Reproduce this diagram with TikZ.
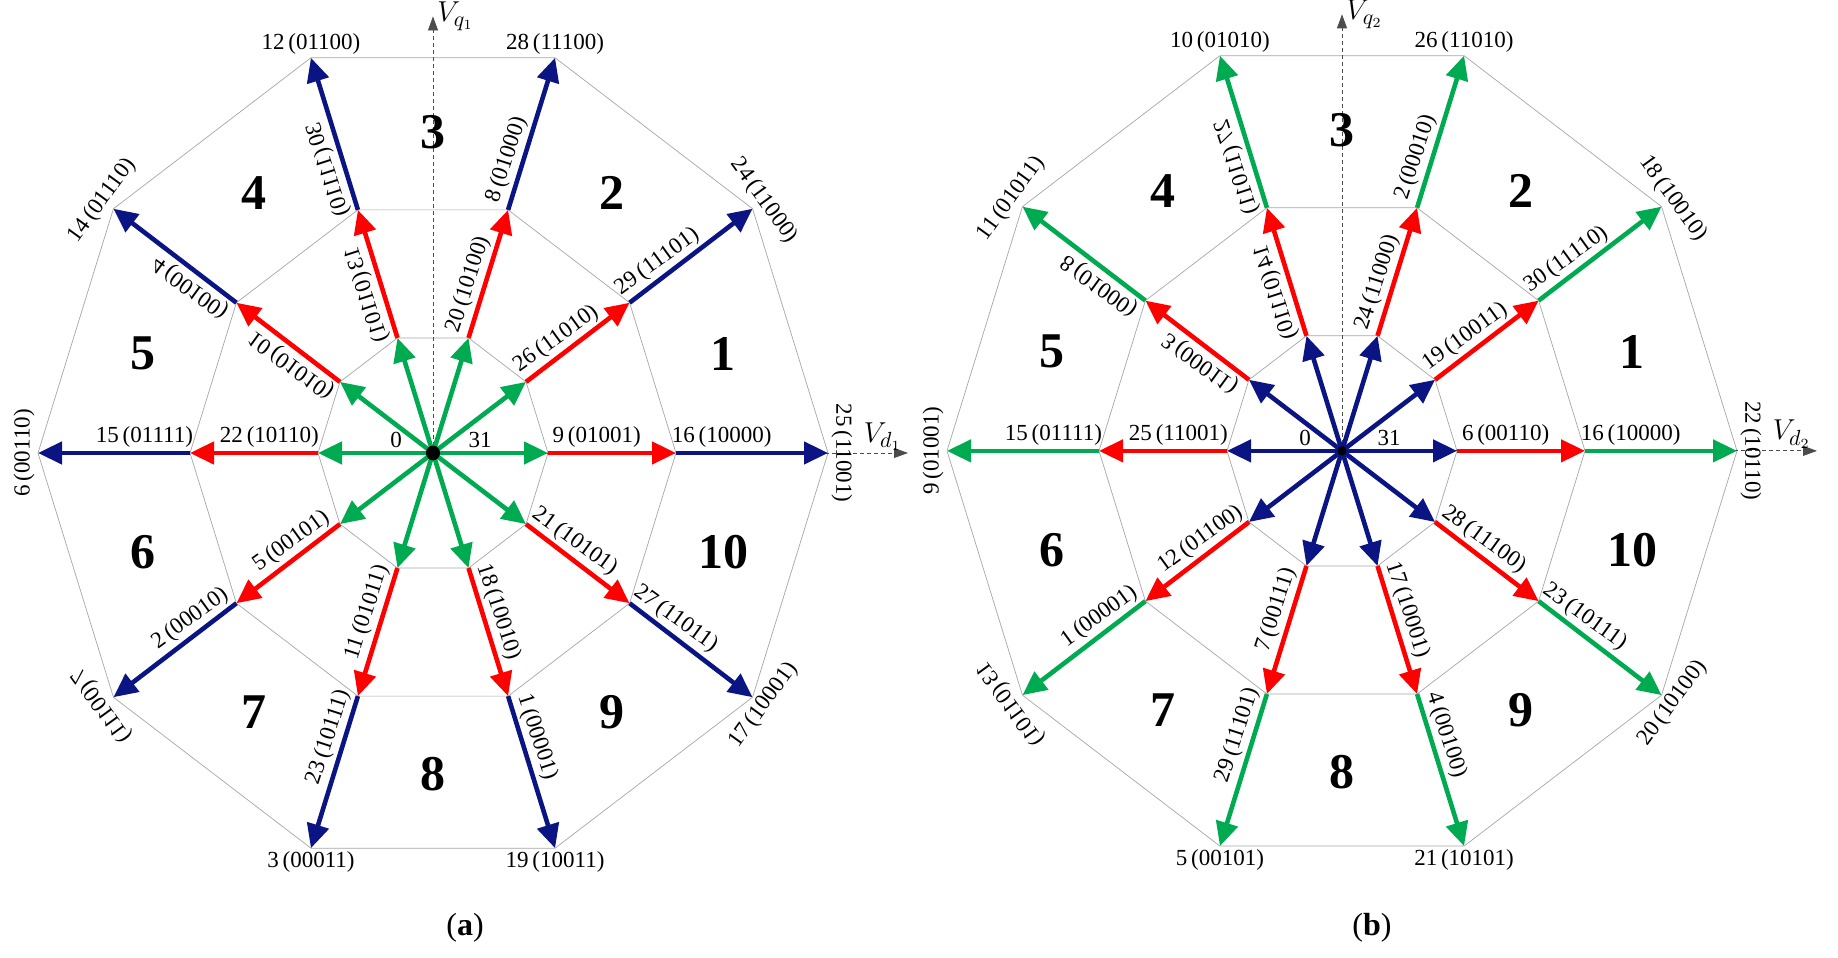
\documentclass[tikz,border=0pt]{standalone}
\usepackage{fontspec}
\setmainfont{Liberation Serif}
\usetikzlibrary{arrows.meta,calc}
\definecolor{gr}{RGB}{0,170,80}
\definecolor{rd}{RGB}{255,0,0}
\definecolor{bl}{RGB}{10,20,130}
\tikzset{
 grid/.style={draw=gray!70,line width=0.35pt},
 arr/.style={line width=2.3pt,-{Triangle[length=12pt,width=11pt]}},
 lab/.style={font=\fontsize{11.5}{13}\selectfont,inner sep=1.5pt,anchor=south,text=black},
 sec/.style={font=\fontsize{25}{27}\selectfont\bfseries},
 ax/.style={draw=black!70,line width=0.4pt,dash pattern=on 2pt off 1.5pt,-{Triangle[length=7pt,width=5pt]}},
 seglab0/.style={lab},
 seglab1/.style={lab,rotate=36},
 seglab2/.style={lab,rotate=72},
 seglab3/.style={lab,rotate=108,xscale=-1},
 seglab4/.style={lab,rotate=144,xscale=-1},
 seglab5/.style={lab},
 seglab6/.style={lab,rotate=36},
 seglab7/.style={lab,rotate=72},
 seglab8/.style={lab,rotate=-72},
 seglab9/.style={lab,rotate=-36},
 ol0/.style={lab,rotate=-90},
 ol1/.style={lab,rotate=-54},
 ol2/.style={lab},
 ol3/.style={lab},
 ol4/.style={lab,rotate=54},
 ol5/.style={lab,rotate=90},
 ol6/.style={lab,rotate=126,xscale=-1},
 ol7/.style={lab,anchor=north},
 ol8/.style={lab,anchor=north},
 ol9/.style={lab,rotate=54,anchor=north},
}
\newcommand\drawpanel[8]{%
 \coordinate (#1c) at (#2,#3);
 \foreach \k in {0,...,9}{
  \coordinate (#1i\k) at ($(#1c)+(\k*36:115)$);
  \coordinate (#1m\k) at ($(#1c)+(\k*36:243)$);
  \coordinate (#1o\k) at ($(#1c)+(\k*36:395)$);
 }
 \draw[grid] (#1i0)--(#1i1)--(#1i2)--(#1i3)--(#1i4)--(#1i5)--(#1i6)--(#1i7)--(#1i8)--(#1i9)--cycle;
 \draw[grid] (#1m0)--(#1m1)--(#1m2)--(#1m3)--(#1m4)--(#1m5)--(#1m6)--(#1m7)--(#1m8)--(#1m9)--cycle;
 \draw[grid] (#1o0)--(#1o1)--(#1o2)--(#1o3)--(#1o4)--(#1o5)--(#1o6)--(#1o7)--(#1o8)--(#1o9)--cycle;
 \coordinate (#1qt) at ($(#1c)+(0,415)$);
 \coordinate (#1dt) at ($(#1c)+(475,0)$);
 \draw[ax] (#1c) -- (#1qt) node[right,inner sep=2pt,font=\fontsize{15}{16}\selectfont]{$V_{q_{#8}}$};
 \draw[ax] (#1c) -- (#1dt) node[above left,inner sep=1pt,xshift=-2pt,font=\fontsize{15}{16}\selectfont]{$V_{d_{#8}}$};
 \foreach \n in {1,...,10}{
  \node[sec] (#1s\n) at ($(#1c)+(\n*36-18:305)$) {\n};
 }
 \foreach \k/\b/\cc/\d in {#6}{
  \draw[arr,#5] (#1m\k) -- (#1o\k) node[seglab\k,pos=.3]{\cc};
  \draw[arr,rd] (#1i\k) -- (#1m\k) node[seglab\k,pos=.38]{\b};
  \node[ol\k] (#1ol\k) at (#1o\k) {\d};
 }
 \foreach \k in {0,...,9}{ \draw[arr,#4] (#1c) -- (#1i\k); }
 \fill (#1c) circle (#7);
 \node[lab] (#1zero) at ($(#1c)+(-37,2)$) {0};
 \node[lab] (#1tt) at ($(#1c)+(47,2)$) {31};
}
\begin{document}
\begin{tikzpicture}[x=0.5pt,y=0.526pt]
\useasboundingbox (0,0) rectangle (1838,910.6);
\drawpanel{L}{433}{480}{gr}{bl}{0/9\,(01001)/16\,(10000)/25\,(11001),
1/26\,(11010)/29\,(11101)/24\,(11000),
2/20\,(10100)/8\,(01000)/28\,(11100),
3/13\,(01101)/30\,(11110)/12\,(01100),
4/10\,(01010)/4\,(00100)/14\,(01110),
5/22\,(10110)/15\,(01111)/6\,(00110),
6/5\,(00101)/2\,(00010)/7\,(00111),
7/11\,(01011)/23\,(10111)/3\,(00011),
8/18\,(10010)/1\,(00001)/19\,(10011),
9/21\,(10101)/27\,(11011)/17\,(10001)}{7}{1}
\drawpanel{R}{1342}{482}{bl}{gr}{0/6\,(00110)/16\,(10000)/22\,(10110),
1/19\,(10011)/30\,(11110)/18\,(10010),
2/24\,(11000)/2\,(00010)/26\,(11010),
3/14\,(01110)/27\,(11011)/10\,(01010),
4/3\,(00011)/8\,(01000)/11\,(01011),
5/25\,(11001)/15\,(01111)/9\,(01001),
6/12\,(01100)/1\,(00001)/13\,(01101),
7/7\,(00111)/29\,(11101)/5\,(00101),
8/17\,(10001)/4\,(00100)/21\,(10101),
9/28\,(11100)/23\,(10111)/20\,(10100)}{4.5}{2}
\node[font=\fontsize{16}{18}\selectfont] (capa) at (465,28.5) {(\textbf{a})};
\node[font=\fontsize{16}{18}\selectfont] (capb) at (1372,28.5) {(\textbf{b})};
\end{tikzpicture}
\end{document}
